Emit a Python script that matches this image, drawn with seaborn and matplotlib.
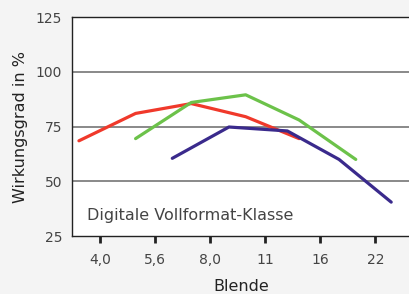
import matplotlib
matplotlib.use("Agg")
import matplotlib.pyplot as plt
import seaborn as sns
import pandas as pd
import numpy as np

# Blendenwerte (f-Zahlen) und Wirkungsgrad in %
rot_blende = [3.5, 5.0, 7.1, 10.0, 14.0]
rot_wert = [68.5, 81, 85.5, 79.5, 69.5]

gruen_blende = [5.0, 7.1, 10.0, 14.0, 20.0]
gruen_wert = [69.5, 86, 89.5, 78, 60]

blau_blende = [6.3, 9.0, 13.0, 18.0, 25.0]
blau_wert = [60.5, 74.8, 73, 60, 40.5]

tick_blende = [4.0, 5.657, 8.0, 11.31, 16.0, 22.63]
tick_labels = ["4,0", "5,6", "8,0", "11", "16", "22"]

df = pd.concat([
    pd.DataFrame({"Blende": rot_blende, "Wert": rot_wert, "Serie": "rot"}),
    pd.DataFrame({"Blende": gruen_blende, "Wert": gruen_wert, "Serie": "gruen"}),
    pd.DataFrame({"Blende": blau_blende, "Wert": blau_wert, "Serie": "blau"}),
])

sns.set_theme(style="white")
plt.rcParams['font.family'] = ['DejaVu Sans']

fig = plt.figure(figsize=(4.09, 2.94), dpi=100, facecolor="#f4f4f4")
ax = fig.add_axes([0.176, 0.197, 0.83, 0.745])
ax.set_facecolor("white")

farben = {"rot": "#f0392b", "gruen": "#6cc24a", "blau": "#3a2a8c"}
sns.lineplot(data=df, x="Blende", y="Wert", hue="Serie", palette=farben,
             linewidth=2.3, legend=False, ax=ax, sort=False)

ax.set_xscale("log", base=2)
ax.set_xlim(3.35, 28.4)
ax.set_ylim(25, 125)
ax.set_xticks(tick_blende)
ax.set_xticklabels(tick_labels)
ax.minorticks_off()
ax.set_yticks([25, 50, 75, 100, 125])

for y in [50, 75, 100]:
    ax.axhline(y, color="#6a6a6a", linewidth=1.1, zorder=0)

ax.spines["right"].set_visible(False)
for s in ["left", "bottom", "top"]:
    ax.spines[s].set_color("#222222")
    ax.spines[s].set_linewidth(1.0)

ax.tick_params(axis="x", bottom=True, length=5, width=2, color="#222222",
               labelsize=10, labelcolor="#444444", pad=7)
ax.tick_params(axis="y", left=False, length=0, labelsize=10, labelcolor="#444444", pad=7)

ax.set_xlabel("Blende", fontsize=11.5, color="#222222", labelpad=9)
ax.set_ylabel("Wirkungsgrad in %", fontsize=11.5, color="#222222", labelpad=6)

ax.text(0.045, 0.075, "Digitale Vollformat-Klasse", transform=ax.transAxes,
        fontsize=11.5, color="#444444")

fig.savefig("out.png", dpi=100, facecolor=fig.get_facecolor())
